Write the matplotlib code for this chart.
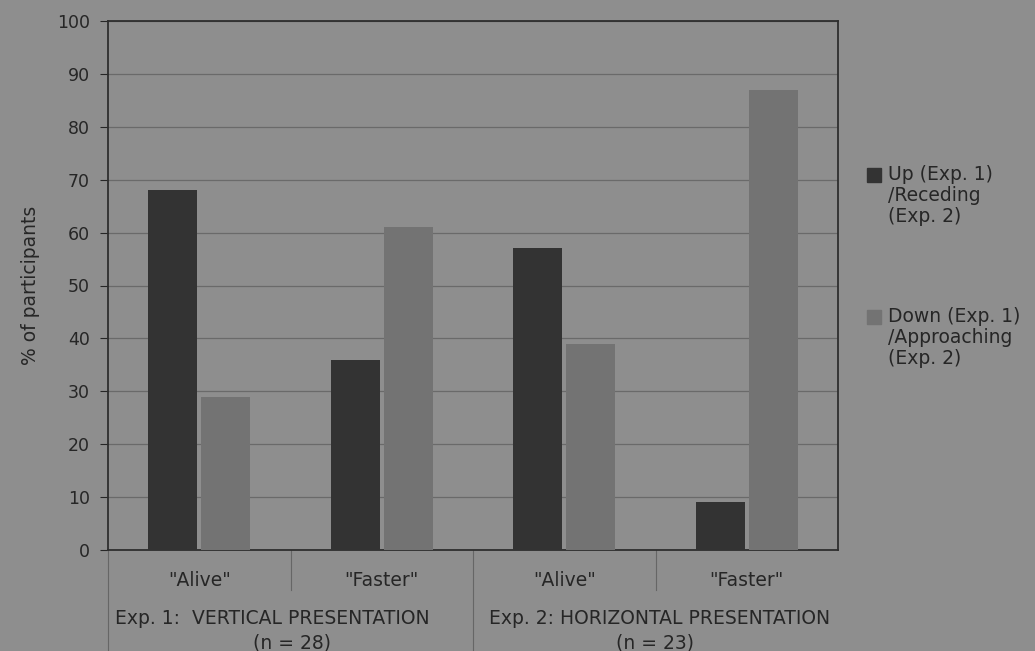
import matplotlib.pyplot as plt
import numpy as np

categories = ['"Alive"', '"Faster"', '"Alive"', '"Faster"']
up_receding = [68, 36, 57, 9]
down_approaching = [29, 61, 39, 87]
groups = ['Exp. 1:  VERTICAL PRESENTATION', 'Exp. 2: HORIZONTAL PRESENTATION']
group_n = ['(n = 28)', '(n = 23)']
legend_labels = ['Up (Exp. 1)\n/Receding\n(Exp. 2)',
                 'Down (Exp. 1)\n/Approaching\n(Exp. 2)']

bg = '#8e8e8e'
txt = '#262626'
dark = '#333333'
light = '#737373'

plt.rcParams['font.family'] = ['DejaVu Sans']

fig = plt.figure(figsize=(10.35, 6.51), dpi=100, facecolor=bg)
ax = fig.add_axes([108 / 1035, 1 - 550 / 651, 730 / 1035, 529 / 651])
ax.set_facecolor(bg)

x = np.arange(len(categories))
w = 0.27
ax.bar(x - 0.145, up_receding, w, color=dark, zorder=3)
ax.bar(x + 0.145, down_approaching, w, color=light, zorder=3)

ax.set_xlim(-0.5, 3.5)
ax.set_ylim(0, 100)
ax.set_yticks(range(0, 101, 10))
ax.tick_params(axis='y', labelsize=12.5, colors=txt, length=6, width=0.8,
               direction='out', pad=7)
ax.set_xticks([])
ax.yaxis.grid(True, color='#6a6a6a', linewidth=0.9, zorder=0)
for s in ax.spines.values():
    s.set_color('#2e2e2e')
    s.set_linewidth(1.3)

ax.set_ylabel('% of participants', fontsize=13.5, color=txt, labelpad=12)

# category labels and separators below the axis
trans = ax.get_xaxis_transform()
for i, c in enumerate(categories):
    ax.text(i, -0.057, c, transform=trans, ha='center', va='center',
            fontsize=13.5, color=txt)
for xs in [0.5, 2.5]:
    ax.plot([xs, xs], [0, -0.076], transform=trans, color='#666666',
            linewidth=0.8, clip_on=False)
for xs in [-0.5, 1.5]:
    ax.plot([xs, xs], [0, -0.2], transform=trans, color='#666666',
            linewidth=0.8, clip_on=False)
ax.text(0.40, -0.129, groups[0], transform=trans, ha='center', va='center',
        fontsize=13.5, color=txt)
ax.text(0.51, -0.176, group_n[0], transform=trans, ha='center', va='center',
        fontsize=13.5, color=txt)
ax.text(2.52, -0.129, groups[1], transform=trans, ha='center', va='center',
        fontsize=13.5, color=txt)
ax.text(2.50, -0.176, group_n[1], transform=trans, ha='center', va='center',
        fontsize=13.5, color=txt)

# legend
for y0, lab, col in [(175, legend_labels[0], dark), (317, legend_labels[1], light)]:
    fig.patches.append(plt.Rectangle((867 / 1035, 1 - (y0 + 7) / 651), 14 / 1035, 14 / 651,
                                     transform=fig.transFigure, color=col))
    fig.text(888 / 1035, 1 - (y0 - 10) / 651, lab, ha='left', va='top',
             fontsize=13.5, color=txt, linespacing=1.12)

fig.savefig('out.png', dpi=100, facecolor=bg)
